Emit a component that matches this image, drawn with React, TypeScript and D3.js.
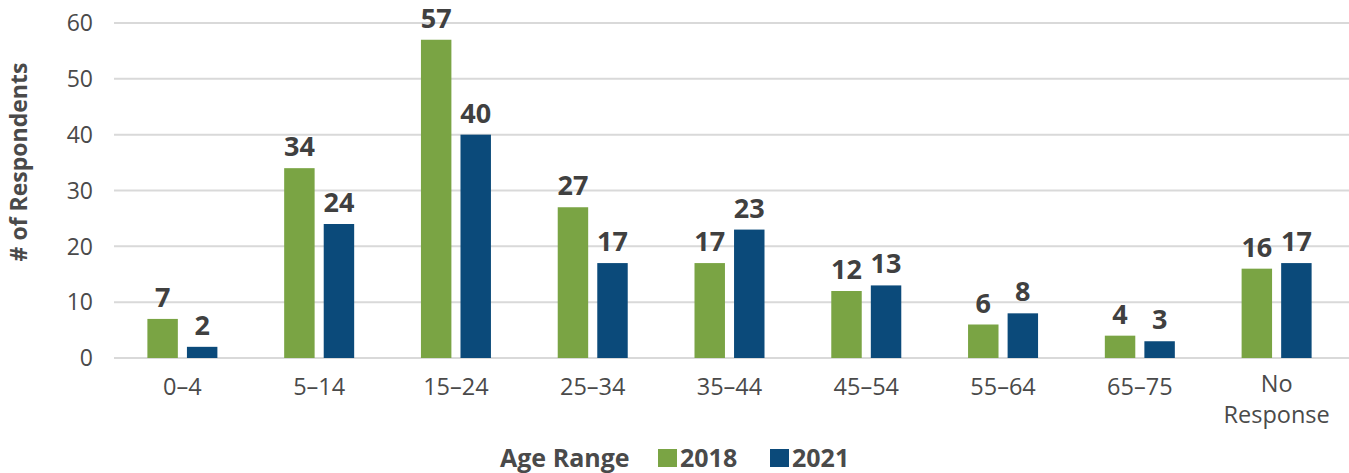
import { useEffect, useRef } from "react";
import * as d3 from "d3";

const categories = ["0–4", "5–14", "15–24", "25–34", "35–44", "45–54", "55–64", "65–75", "No Response"];
const values2018 = [7, 34, 57, 27, 17, 12, 6, 4, 16];
const values2021 = [2, 24, 40, 17, 23, 13, 8, 3, 17];
const seriesNames = ["2018", "2021"];
const yTicks = [0, 10, 20, 30, 40, 50, 60];

const colors = ["#7aa444", "#0b4a7a"];
const textColor = "#4a4a4a";
const font = "'Open Sans', 'Noto Sans', sans-serif";

const App = () => {
  const svgRef = useRef<SVGSVGElement>(null);

  useEffect(() => {
    const svg = d3.select(svgRef.current);
    const width = 1349;
    const height = 473;
    const margin = { top: 23, left: 114, bottom: 115 };

    svg.selectAll("*").remove();

    const x = d3.scaleBand().domain(categories).range([margin.left, 1345]).padding(0);

    // two bars per group, centred on the band
    const inner = d3.scaleBand().domain(seriesNames).range([-35, 35]).paddingInner(0.23).paddingOuter(0);

    const y = d3
      .scaleLinear()
      .domain([0, 60])
      .range([height - margin.bottom, margin.top]);

    // gridlines
    svg
      .append("g")
      .selectAll("line")
      .data(yTicks)
      .enter()
      .append("line")
      .attr("x1", margin.left)
      .attr("x2", width)
      .attr("y1", (d) => y(d))
      .attr("y2", (d) => y(d))
      .attr("stroke", "#d9d9d9")
      .attr("stroke-width", 2);

    // y tick labels
    svg
      .append("g")
      .selectAll("text")
      .data(yTicks)
      .enter()
      .append("text")
      .attr("x", 93)
      .attr("y", (d) => y(d))
      .attr("dy", "0.36em")
      .attr("text-anchor", "end")
      .attr("font-family", font)
      .attr("font-size", 23)
      .attr("fill", textColor)
      .text((d) => d);

    // y title
    svg
      .append("text")
      .attr("transform", `translate(27,${162}) rotate(-90)`)
      .attr("text-anchor", "middle")
      .attr("font-family", font)
      .attr("font-size", 23)
      .attr("font-weight", "bold")
      .attr("fill", textColor)
      .text("# of Respondents");

    const series = [values2018, values2021];

    series.forEach((vals, si) => {
      const g = svg.append("g");
      g.selectAll("rect")
        .data(vals)
        .enter()
        .append("rect")
        .attr("x", (d, i) => x(categories[i])! + x.bandwidth() / 2 + inner(seriesNames[si])!)
        .attr("y", (d) => y(d))
        .attr("width", inner.bandwidth())
        .attr("height", (d) => y(0) - y(d))
        .attr("fill", colors[si]);

      g.selectAll("text")
        .data(vals)
        .enter()
        .append("text")
        .attr("x", (d, i) => x(categories[i])! + x.bandwidth() / 2 + inner(seriesNames[si])! + inner.bandwidth() / 2)
        .attr("y", (d) => y(d) - 12)
        .attr("text-anchor", "middle")
        .attr("font-family", font)
        .attr("font-size", 27)
        .attr("font-weight", "bold")
        .attr("fill", "#404040")
        .text((d) => d);
    });

    // x labels
    const xl = svg.append("g");
    categories.forEach((c) => {
      const words = c === "No Response" ? ["No", "Response"] : [c];
      const t = xl
        .append("text")
        .attr("x", x(c)! + x.bandwidth() / 2)
        .attr("y", words.length > 1 ? 392 : 395)
        .attr("text-anchor", "middle")
        .attr("font-family", font)
        .attr("font-size", 23.5)
        .attr("fill", textColor);
      words.forEach((w, i) => {
        t.append("tspan")
          .attr("x", x(c)! + x.bandwidth() / 2)
          .attr("dy", i === 0 ? 0 : 31)
          .text(w);
      });
    });

    // legend
    const lg = svg
      .append("g")
      .attr("font-family", font)
      .attr("font-size", 25)
      .attr("font-weight", "bold")
      .attr("fill", textColor);
    lg.append("text").attr("x", 500).attr("y", 467).text("Age Range");
    const legendX = [658, 770];
    seriesNames.forEach((s, i) => {
      lg.append("rect").attr("x", legendX[i]).attr("y", 449).attr("width", 19).attr("height", 18).attr("fill", colors[i]);
      lg.append("text").attr("x", legendX[i] + 22).attr("y", 467).text(s);
    });
  }, []);

  return (
    <div style={{ position: "fixed", left: 0, top: 0, width: 1349, height: 473, background: "#fff" }}>
      <svg ref={svgRef} width={1349} height={473} style={{ display: "block" }}></svg>
    </div>
  );
};

export default App;
